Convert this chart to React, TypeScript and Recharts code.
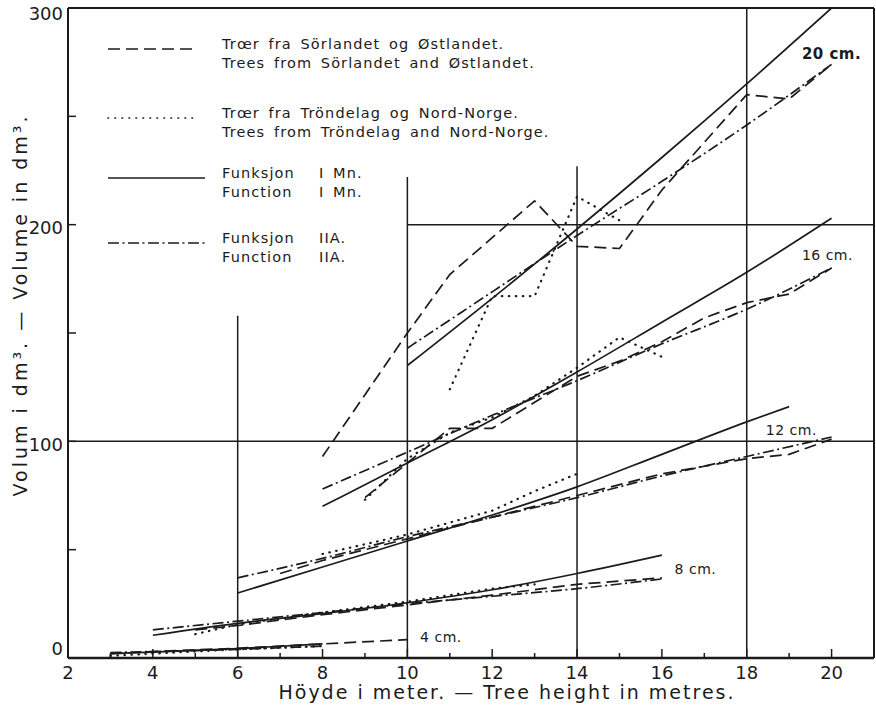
import React from 'react';
import { LineChart, Line, XAxis, YAxis, ReferenceLine, ReferenceDot } from 'recharts';

// [tree height (m), volume (dm³)]
const dash20 = [[8, 93], [10, 150], [11, 177], [13, 211], [14, 190], [15, 189], [16, 216], [18, 260], [19, 258], [20, 274]];
const dot20 = [[11, 124], [12, 167], [13, 167], [14, 213], [15, 202]];
const mn20 = [[10, 135], [12, 166], [14, 198], [16, 231], [18, 265], [20, 300]];
const iia20 = [[10, 143], [12, 169], [14, 195], [16, 220], [18, 246], [20, 274]];

const dash16 = [[9, 74], [10, 90], [11, 106], [12, 106], [13, 118], [14, 130], [15, 137], [16, 146], [17, 157], [18, 164], [19, 168], [20, 180]];
const dot16 = [[9, 73], [10, 92], [11, 104], [12, 111], [13, 121], [14, 134], [15, 148], [16, 139]];
const mn16 = [[8, 70], [10, 90], [12, 110], [14, 132], [16, 155], [18, 178], [20, 203]];
const iia16 = [[8, 78], [10, 95], [12, 112], [14, 128], [16, 145], [18, 161], [20, 180]];

const dash12 = [[7, 39], [8, 45], [10, 55], [12, 65], [14, 75], [16, 85], [18, 92], [19, 94], [20, 101]];
const dot12 = [[8, 48], [10, 57], [12, 68], [13, 77], [14, 85]];
const mn12 = [[6, 30], [8, 42], [10, 54], [12, 66], [14, 79], [16, 94], [18, 109], [19, 116]];
const iia12 = [[6, 37], [8, 46], [10, 56], [12, 65], [14, 74], [16, 84], [18, 93], [20, 102]];

const dash8 = [[5, 13], [6, 15], [8, 20], [10, 24.5], [12, 29], [14, 34], [16, 37]];
const dot8 = [[5, 11], [6, 15.5], [8, 21], [10, 26], [12, 32], [13, 34]];
const mn8 = [[4, 10.5], [6, 16], [8, 20.5], [10, 25.5], [12, 31.5], [14, 39], [16, 47.5]];
const iia8 = [[4, 13], [6, 17], [8, 21], [10, 25], [12, 28.5], [14, 32], [16, 36.5]];

const dash4 = [[3, 2], [4, 3], [6, 4.5], [8, 6.5], [10, 8.5]];
const dot4 = [[3, 1], [4, 2], [6, 4], [8, 5.5]];
const mn4 = [[3, 2], [4, 2.7], [6, 4.3], [8, 6.5]];
const iia4 = [[3, 2.5], [4, 3], [6, 4], [8, 5.5]];

const xTicks = [2, 3, 4, 5, 6, 7, 8, 9, 10, 11, 12, 13, 14, 15, 16, 17, 18, 19, 20];
const yTicks = [0, 50, 100, 150, 200, 250, 300];

// partial grid of the original drawing
const gridV = [{ x: 6, top: 158 }, { x: 10, top: 222 }, { x: 14, top: 227 }, { x: 18, top: 300 }];
const gridH = [{ y: 100, from: 2 }, { y: 200, from: 10 }];

const classLabels = [
  { h: 19.3, v: 279, text: '20 cm.' },
  { h: 19.3, v: 186, text: '16 cm.' },
  { h: 18.45, v: 105, text: '12 cm.' },
  { h: 16.3, v: 41, text: '8 cm.' },
  { h: 10.3, v: 9.5, text: '4 cm.' },
];

const INK = '#1b1b1b';
const FONT = "'DejaVu Sans', sans-serif";

const DASH = '12 6';
const DOT = '0.5 6.5';
const DASHDOT = '11 3.5 2 3.5';

const pts = (a: number[][]) => a.map(([x, y]) => ({ x, y }));

const series = [
  { d: dash20, s: DASH, t: 'linear' }, { d: dot20, s: DOT, t: 'linear' }, { d: mn20, s: '', t: 'monotone' }, { d: iia20, s: DASHDOT, t: 'monotone' },
  { d: dash16, s: DASH, t: 'linear' }, { d: dot16, s: DOT, t: 'linear' }, { d: mn16, s: '', t: 'monotone' }, { d: iia16, s: DASHDOT, t: 'monotone' },
  { d: dash12, s: DASH, t: 'linear' }, { d: dot12, s: DOT, t: 'linear' }, { d: mn12, s: '', t: 'monotone' }, { d: iia12, s: DASHDOT, t: 'monotone' },
  { d: dash8, s: DASH, t: 'linear' }, { d: dot8, s: DOT, t: 'linear' }, { d: mn8, s: '', t: 'monotone' }, { d: iia8, s: DASHDOT, t: 'monotone' },
  { d: dash4, s: DASH, t: 'linear' }, { d: dot4, s: DOT, t: 'linear' }, { d: mn4, s: '', t: 'monotone' }, { d: iia4, s: DASHDOT, t: 'monotone' },
];

const XTick = (props: any) => {
  const { x, y, payload } = props;
  const v = payload.value;
  const major = v % 2 === 0;
  return (
    <g>
      <line x1={x} x2={x} y1={y} y2={y - (major ? 9 : 5)} stroke={INK} strokeWidth={1.5} />
      {major && (
        <text x={x} y={y + 21} textAnchor="middle" fontSize={18} fontFamily={FONT} fill={INK}>
          {v}
        </text>
      )}
    </g>
  );
};

const YTick = (props: any) => {
  const { x, y, payload } = props;
  const v = payload.value;
  const shift = v === 0 ? -9 : v === 300 ? 6 : 3;
  return (
    <g>
      {v > 0 && v < 300 && <line x1={x} x2={x + 8} y1={y} y2={y} stroke={INK} strokeWidth={1.5} />}
      {v % 100 === 0 && (
        <text x={x - 5} y={y + shift} dy="0.35em" textAnchor="end" fontSize={18} fontFamily={FONT} fill={INK}>
          {v}
        </text>
      )}
    </g>
  );
};

const legendItems = [
  { s: DASH, x2: 197, y: 49, a: 'Trœr fra Sörlandet og Østlandet.', b: 'Trees from Sörlandet and Østlandet.', tag: '' },
  { s: DOT, x2: 197, y: 118, a: 'Trœr fra Tröndelag og Nord-Norge.', b: 'Trees from Tröndelag and Nord-Norge.', tag: '' },
  { s: '', x2: 205, y: 178, a: 'Funksjon', b: 'Function', tag: 'I Mn.' },
  { s: DASHDOT, x2: 205, y: 243, a: 'Funksjon', b: 'Function', tag: 'IIA.' },
];

const LegendBox = () => (
  <svg width={876} height={709} style={{ position: 'absolute', left: 0, top: 0, pointerEvents: 'none' }}>
    {legendItems.map((it, i) => (
      <g key={i} fontFamily={FONT} fontSize={14.5} fill={INK} letterSpacing={1.1} wordSpacing={3}>
        <line x1={108} x2={it.x2} y1={it.y} y2={it.y} stroke={INK} strokeWidth={1.7}
          strokeDasharray={it.s || undefined} strokeLinecap={it.s === DOT ? 'round' : 'butt'} />
        <text x={222} y={it.y}>{it.a}</text>
        <text x={222} y={it.y + 19}>{it.b}</text>
        {it.tag && <text x={319} y={it.y}>{it.tag}</text>}
        {it.tag && <text x={319} y={it.y + 19}>{it.tag}</text>}
      </g>
    ))}
  </svg>
);

export default function App() {
  return (
    <div style={{ position: 'relative', width: 876, height: 709, background: '#fff' }}>
      <style>{'body{margin:0}'}</style>
      <LineChart width={876} height={709} margin={{ top: 8, right: 2, bottom: 9, left: 8 }}>
        <XAxis
          type="number"
          dataKey="x"
          domain={[2, 21]}
          ticks={xTicks}
          interval={0}
          height={42}
          tickSize={0}
          tickMargin={0}
          tickLine={false}
          tick={<XTick />}
          axisLine={{ stroke: INK, strokeWidth: 2.5 }}
          allowDataOverflow
          label={() => (
            <text x={507} y={699} textAnchor="middle" fontSize={19} letterSpacing={2} fontFamily={FONT} fill={INK}>
              Höyde i meter. — Tree height in metres.
            </text>
          )}
        />
        <YAxis
          type="number"
          dataKey="y"
          domain={[0, 300]}
          ticks={yTicks}
          interval={0}
          width={60}
          tickSize={0}
          tickMargin={0}
          tickLine={false}
          tick={<YTick />}
          axisLine={{ stroke: INK, strokeWidth: 2 }}
          allowDataOverflow
          label={() => (
            <text x={20} y={305} transform="rotate(-90 20 305)" textAnchor="middle" dominantBaseline="central"
              fontSize={19} letterSpacing={3} fontFamily={FONT} fill={INK}>
              Volum i dm³. — Volume in dm³.
            </text>
          )}
        />
        <ReferenceLine y={300} stroke={INK} strokeWidth={2} />
        <ReferenceLine x={21} stroke={INK} strokeWidth={2} />
        {gridV.map((g) => (
          <ReferenceLine key={'v' + g.x} segment={[{ x: g.x, y: 0 }, { x: g.x, y: g.top }]} stroke={INK} strokeWidth={1.5} />
        ))}
        {gridH.map((g) => (
          <ReferenceLine key={'h' + g.y} segment={[{ x: g.from, y: g.y }, { x: 21, y: g.y }]} stroke={INK} strokeWidth={1.5} />
        ))}
        {series.map((s, i) => (
          <Line
            key={i}
            data={pts(s.d)}
            dataKey="y"
            type={s.t as any}
            stroke={INK}
            strokeWidth={s.s === DOT ? 2.2 : 1.7}
            strokeDasharray={s.s || undefined}
            strokeLinecap={s.s === DOT ? 'round' : 'butt'}
            dot={false}
            activeDot={false}
            isAnimationActive={false}
          />
        ))}
        {classLabels.map((c) => (
          <ReferenceDot
            key={c.text}
            x={c.h}
            y={c.v}
            r={0}
            shape={(p: any) => (
              <text x={p.cx} y={p.cy} dy="0.35em" fontSize={c.text === '20 cm.' ? 15 : 14} fontWeight={c.text === '20 cm.' ? 'bold' : 'normal'}
                fontFamily={FONT} fill={INK} letterSpacing={0.5}>
                {c.text}
              </text>
            )}
          />
        ))}
      </LineChart>
      <LegendBox />
    </div>
  );
}
